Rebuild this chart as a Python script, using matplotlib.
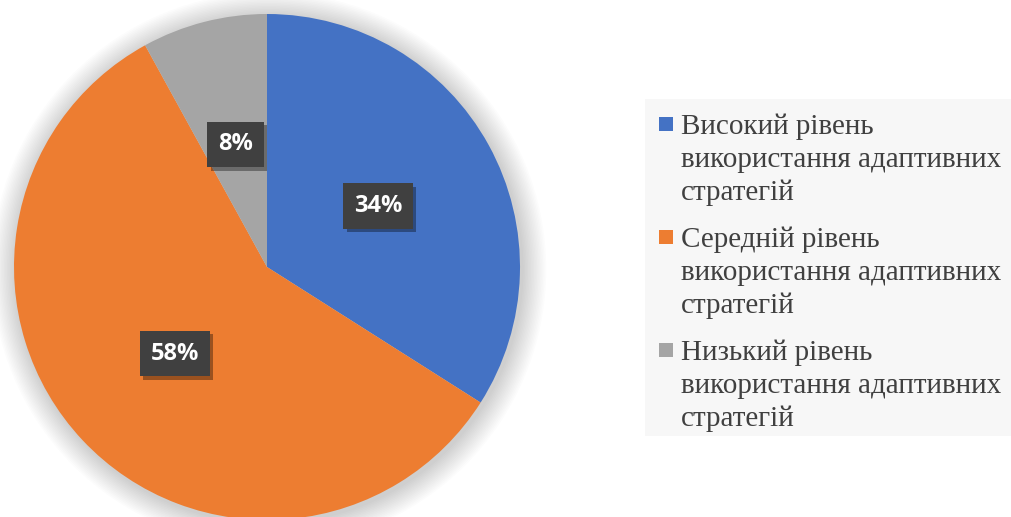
import matplotlib
matplotlib.use("Agg")
import matplotlib.pyplot as plt
import matplotlib.patheffects as pe
from matplotlib.patches import Circle, Rectangle

# data
categories = [
    "Високий рівень\nвикористання адаптивних\nстратегій",
    "Середній рівень\nвикористання адаптивних\nстратегій",
    "Низький рівень\nвикористання адаптивних\nстратегій",
]
values = [34, 58, 8]
colors = ["#4472C4", "#ED7D31", "#A5A5A5"]

W, H = 1012, 517
fig = plt.figure(figsize=(W / 100, H / 100), dpi=100)

# pie axes: centre (267, 267) px, radius 253 px
cx, cy, r = 267, 267, 253
ax = fig.add_axes([(cx - r) / W, (H - cy - r) / H, 2 * r / W, 2 * r / H])

# soft shadow behind the pie
for k in range(16, 0, -1):
    ax.add_patch(Circle((0.008, -0.01), 1 + k * 0.006, color="black",
                        alpha=0.012, lw=0, zorder=0, clip_on=False))

wedges, texts, autotexts = ax.pie(
    values, colors=colors, startangle=90, counterclock=False,
    autopct=lambda p: f"{p:.0f}%", pctdistance=0.5,
    wedgeprops=dict(linewidth=0, zorder=2),
    textprops=dict(color="white", fontsize=17, fontweight="bold", family="Open Sans"),
)
for t in autotexts:
    t.set_zorder(5)
    t.set_bbox(dict(boxstyle="square,pad=0.45", facecolor="#404040", edgecolor="none"))
    t.get_bbox_patch().set_path_effects(
        [pe.SimplePatchShadow(offset=(2.5, -2.5), shadow_rgbFace="black", alpha=0.35),
         pe.Normal()])

ax.set_xlim(-1, 1)
ax.set_ylim(-1, 1)
ax.set_aspect("auto")
ax.axis("off")

# legend, drawn by hand
lx0, ly0, lx1, ly1 = 645, 99, 1012, 436
fig.patches.append(Rectangle((lx0 / W, 1 - ly1 / H), (lx1 - lx0) / W, (ly1 - ly0) / H,
                             transform=fig.transFigure, facecolor="#f7f7f7",
                             edgecolor="none", zorder=0))

baseline0 = 134
line_gap = 33
entry_gap = 113
for i, (lab, col) in enumerate(zip(categories, colors)):
    base = baseline0 + i * entry_gap
    fig.patches.append(Rectangle((659 / W, 1 - (base - 3) / H), 14 / W, 14 / H,
                                 transform=fig.transFigure, facecolor=col,
                                 edgecolor="none", zorder=2))
    for j, line in enumerate(lab.split("\n")):
        fig.text(681 / W, 1 - (base + j * line_gap) / H, line,
                 fontsize=21, family="Liberation Serif", color="#404040",
                 ha="left", va="baseline")

fig.savefig("out.png", dpi=100)
